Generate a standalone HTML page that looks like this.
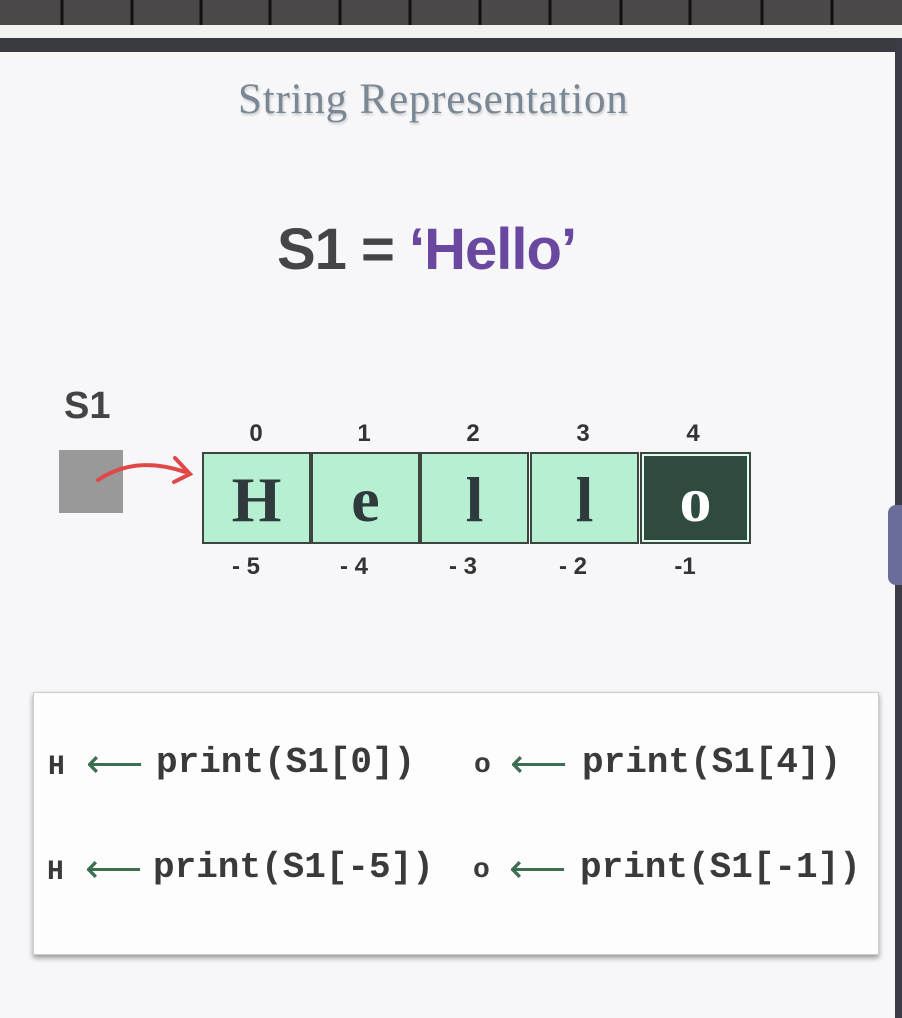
<!DOCTYPE html>
<html><head><meta charset="utf-8"><style>
body{margin:0;width:902px;height:1018px;position:relative;overflow:hidden;background:#f7f7f9;font-family:"Liberation Sans",sans-serif}
.a{position:absolute}
.cell{position:absolute;top:452px;height:92px;width:109px;background:#b6efd2;border:2px solid #3c463f;box-sizing:border-box;font-family:"Liberation Serif",serif;font-weight:bold;font-size:64px;color:#2e3a3c;text-align:center;line-height:92px}
.idx{position:absolute;font-weight:bold;font-size:24px;color:#333;width:60px;text-align:center}
.code{position:absolute;font-family:"Liberation Mono",monospace;font-weight:bold;font-size:36px;color:#3a3a3a;white-space:pre}
.ch{position:absolute;font-family:"Liberation Mono",monospace;font-weight:bold;font-size:28px;color:#3a3a3a}
.ar{position:absolute;font-size:40px;color:#3e6e52;line-height:1}
</style></head><body>
<div class="a" style="left:0;top:0;width:902px;height:25px;background:#4a4848"></div>
<div class="a" style="left:0;top:25px;width:902px;height:13px;background:#f2f2ee"></div>
<div class="a" style="left:0;top:38px;width:902px;height:14px;background:#3a3b40"></div>
<div class="a" style="left:895px;top:38px;width:7px;height:980px;background:#3a3b44"></div>
<div class="a" style="left:888px;top:505px;width:14px;height:80px;background:#6a6c9a;border-radius:8px 0 0 8px"></div>
<svg class="a" style="left:0;top:0" width="902" height="25"><g stroke="#111" stroke-width="3">
<line x1="62" y1="0" x2="62" y2="25"/><line x1="132" y1="0" x2="132" y2="25"/><line x1="201" y1="0" x2="201" y2="25"/><line x1="270" y1="0" x2="270" y2="25"/><line x1="340" y1="0" x2="340" y2="25"/><line x1="410" y1="0" x2="410" y2="25"/><line x1="480" y1="0" x2="480" y2="25"/><line x1="550" y1="0" x2="550" y2="25"/><line x1="621" y1="0" x2="621" y2="25"/><line x1="690" y1="0" x2="690" y2="25"/><line x1="762" y1="0" x2="762" y2="25"/><line x1="832" y1="0" x2="832" y2="25"/></g></svg>
<div class="a" style="left:238px;top:75px;width:420px;font-family:'Liberation Serif',serif;font-size:43px;color:#7a8794;text-shadow:1px 2px 2px #ccc;letter-spacing:0.8px;white-space:nowrap">String Representation</div>
<div class="a" style="left:277px;top:216px;white-space:nowrap;font-weight:bold;font-size:58px;color:#454548;letter-spacing:-1px">S1 = <span style="color:#6a48a0">‘Hello’</span></div>
<div class="a" style="left:64px;top:385px;font-weight:bold;font-size:38px;color:#444">S1</div>
<div class="a" style="left:59px;top:450px;width:64px;height:63px;background:#999"></div>
<svg class="a" style="left:90px;top:450px" width="110" height="40"><path d="M8 30 Q45 5 95 22" fill="none" stroke="#e04848" stroke-width="4" stroke-linecap="round"/><path d="M85 8 L100 24 L84 32" fill="none" stroke="#e04848" stroke-width="4" stroke-linecap="round"/></svg>
<div class="cell" style="left:202px">H</div>
<div class="cell" style="left:311px">e</div>
<div class="cell" style="left:420px">l</div>
<div class="cell" style="left:530px">l</div>
<div class="cell" style="left:640px;width:111px;background:#2f4b3f;color:#fff;box-shadow:inset 0 0 0 2px #dfe;">o</div>
<div class="idx" style="left:226px;top:420px">0</div><div class="idx" style="left:334px;top:420px">1</div><div class="idx" style="left:443px;top:420px">2</div><div class="idx" style="left:553px;top:420px">3</div><div class="idx" style="left:663px;top:420px">4</div>
<div class="idx" style="left:216px;top:553px">- 5</div><div class="idx" style="left:324px;top:553px">- 4</div><div class="idx" style="left:433px;top:553px">- 3</div><div class="idx" style="left:543px;top:553px">- 2</div><div class="idx" style="left:655px;top:553px">-1</div>
<div class="a" style="left:33px;top:692px;width:844px;height:261px;background:#fdfdfd;border:1px solid #ccc;box-shadow:0 3px 5px #999"></div>

<div class="ch" style="left:48px;top:752px">H</div><div class="ar" style="left:86px;top:744px">⟵</div><div class="code" style="left:156px;top:742px">print(S1[0])</div>
<div class="ch" style="left:474px;top:750px">o</div><div class="ar" style="left:510px;top:744px">⟵</div><div class="code" style="left:582px;top:742px">print(S1[4])</div>
<div class="ch" style="left:47px;top:857px">H</div><div class="ar" style="left:85px;top:849px">⟵</div><div class="code" style="left:153px;top:847px">print(S1[-5])</div>
<div class="ch" style="left:473px;top:855px">o</div><div class="ar" style="left:509px;top:849px">⟵</div><div class="code" style="left:580px;top:847px">print(S1[-1])</div>
</body></html>
